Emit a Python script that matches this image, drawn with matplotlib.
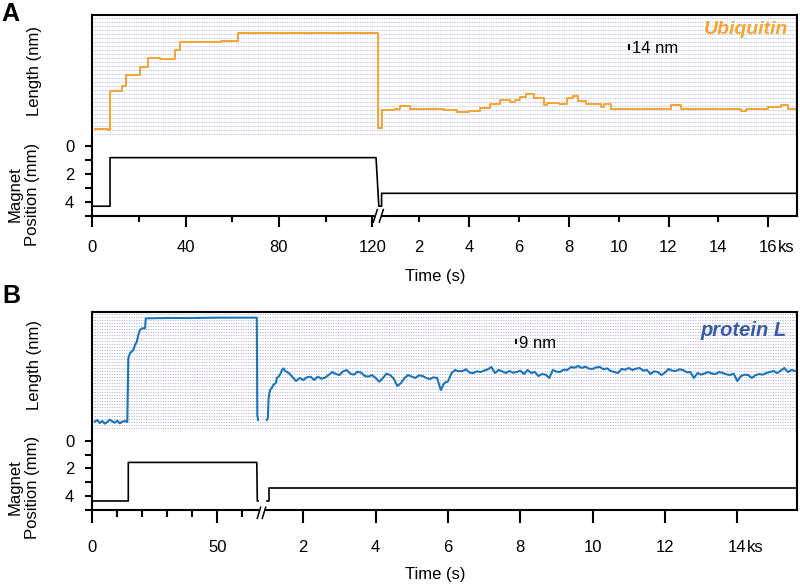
import numpy as np
import matplotlib
matplotlib.use("Agg")
import matplotlib.pyplot as plt
from matplotlib.ticker import FixedLocator, FixedFormatter

plt.rcParams["font.family"] = ["Liberation Sans", "DejaVu Sans"]

# =============================
# Data - panel A (ubiquitin)
# =============================
# first part of the trace in seconds, second part in ks
A_SEG1_T = [1.0, 3.5, 5.5, 6.8, 7.6, 10.0, 12.6, 14.4, 17.0, 20.4, 24.0, 29.0,
            33.0, 35.4, 37.6, 45.0, 55.0, 62.6, 75.0, 90.0, 105.0, 118.0, 122.3]
A_SEG1_L = [17.5, 19.0, 16.5, 14.0, 151.5, 150.0, 168.0, 206.5, 205.0, 235.5, 265.0, 263.0,
            261.0, 294.0, 323.0, 322.0, 324.0, 352.0, 353.0, 354.0, 353.0, 352.0, 20.0]
A_SEG2_KS = [0.50, 1.05, 1.24, 1.64, 2.30, 3.00, 3.53, 4.00, 4.46, 4.86,
             5.26, 5.66, 5.86, 6.06, 6.27, 6.59, 6.99, 7.15, 7.60, 7.95,
             8.19, 8.36, 8.68, 9.28, 9.40, 9.68, 10.8, 12.09, 12.50, 13.5,
             14.91, 15.10, 15.99, 16.51, 16.79, 17.15]
A_SEG2_L = [84, 86, 99, 86, 88, 84, 78, 80, 90, 104,
            119, 112, 119, 131, 140, 125, 101, 107, 104, 125,
            133, 116, 105, 94, 105, 86, 88, 101, 86, 88,
            80, 86, 94, 101, 88, 88]

A_MAG_T1 = [0, 7.6, 7.6, 121.6, 122.8]
A_MAG_V1 = [4.3, 4.3, 0.83, 0.83, 4.3]
A_MAG_KS2 = [0.50, 0.50, 17.15]
A_MAG_V2 = [4.3, 3.38, 3.38]

A_MAJOR_S = [0, 40, 80, 120, 4000, 8000, 12000, 16000]
A_MAJOR_LBL = ["0", "40", "80", "120", "4", "8", "12", "16"]
A_MINOR_S = [20, 60, 100, 2000, 6000, 10000, 14000]
A_MINOR_LBL = ["", "", "", "2", "6", "10", "14"]

# =============================
# Data - panel B (protein L)
# =============================
B_SEG1_T = [1, 2, 3, 4, 5, 6, 7, 8, 9, 10, 11, 12, 13,
            14.0, 14.4, 15.1, 16.4, 17.1, 17.8, 18.4, 19.1, 19.8, 21.1, 21.4,
            30, 40, 50, 60, 65.8, 66.0, 150]
B_SEG1_L = [19, 24, 15, 21, 13, 18, 25, 20, 16, 22, 14, 19, 21,
            18, 209, 225, 234, 249, 259, 279, 294, 299, 299, 329,
            330, 330, 331, 331, 331, 39, 24]
B_RISE_KS = [0.99, 1.02, 1.04, 1.08, 1.13, 1.17, 1.24, 1.27, 1.33, 1.38, 1.41, 1.45]
B_RISE_L = [24, 30, 90, 114, 120, 129, 135, 150, 156, 165, 174, 179]
# noisy plateau sampled every 0.1 ks from 1.5 ks
B_NOISE_START, B_NOISE_STEP = 1.5, 0.1
B_NOISE_L = [171, 165, 153, 141, 150, 144, 152, 154, 144, 154,
             148, 151, 159, 168, 162, 159, 170, 174, 163, 160,
             169, 166, 156, 154, 159, 150, 139, 150, 163, 159,
             148, 126, 135, 150, 159, 154, 150, 158, 156, 150,
             147, 152, 150, 114, 135, 140, 165, 174, 170, 171,
             176, 166, 165, 170, 168, 172, 176, 183, 165, 174,
             170, 165, 171, 166, 168, 172, 162, 174, 165, 168,
             156, 162, 160, 150, 174, 169, 168, 175, 174, 183,
             181, 186, 180, 184, 178, 177, 182, 183, 176, 179,
             171, 168, 165, 177, 175, 180, 174, 178, 180, 172,
             174, 162, 170, 168, 159, 166, 177, 172, 171, 176,
             174, 167, 168, 150, 165, 160, 164, 168, 163, 162,
             168, 165, 161, 159, 163, 141, 156, 160, 159, 150,
             158, 162, 160, 165, 168, 171, 165, 172, 180, 168,
             174, 171]

B_MAG_T1 = [0, 14.4, 14.4, 65.8, 66.0, 150]
B_MAG_V1 = [4.35, 4.35, 1.57, 1.57, 4.35, 4.35]
B_MAG_KS2 = [0.99, 1.06, 1.06, 15.65]
B_MAG_V2 = [4.35, 4.35, 3.38, 3.38]

B_MAJOR_S = [0, 50, 2000, 4000, 6000, 8000, 10000, 12000, 14000]
B_MAJOR_LBL = ["0", "50", "2", "4", "6", "8", "10", "12", "14"]
B_MINOR_S = [10, 20, 30, 40, 60]
B_MINOR_LBL = ["", "", "", "", ""]

# =============================
# Style
# =============================
ORANGE = "#F5A431"
BLUE = "#1C75BC"
BLUE_TXT = "#3B5BA8"
GRID = "#ababdb"
SPINE_W = 1.5
FS = 12

W_PX, H_PX = 800, 585
X0_PX, X1_PX = 92.3, 797.0


def rect(top, bottom):
    return [X0_PX / W_PX, 1 - bottom / H_PX, (X1_PX - X0_PX) / W_PX, (bottom - top) / H_PX]


def broken_scale(t_knots, p_knots):
    # piecewise linear time axis (seconds part + ks part)
    def forward(t):
        return np.interp(t, t_knots, p_knots)

    def inverse(p):
        return np.interp(p, p_knots, t_knots)
    return forward, inverse


def setup_panel(ax_len, ax_mag, knots, xmax, len_lim, grid_step, grid_top,
                majors, major_lbl, minors, minor_lbl, maj_len, min_len, pad,
                mag_top, ks_at, break_x):
    ax_mag.set_xscale("function", functions=broken_scale(*knots))
    ax_mag.set_xlim(0, xmax)

    # length axes: only dotted horizontal grid
    ax_len.set_ylim(*len_lim)
    ax_len.set_yticks(np.arange(0, grid_top + 1, grid_step))
    ax_len.tick_params(axis="y", length=0, labelleft=False)
    ax_len.tick_params(axis="x", which="both", bottom=False, labelbottom=False)
    ax_len.grid(axis="y", linestyle=(0, (1, 1.5)), color=GRID, linewidth=0.7)
    ax_len.spines["bottom"].set_visible(False)

    # magnet axes
    ax_mag.set_ylim(5, mag_top)
    ax_mag.yaxis.set_major_locator(FixedLocator([0, 2, 4]))
    ax_mag.yaxis.set_minor_locator(FixedLocator([1, 3, 5]))
    ax_mag.tick_params(axis="y", which="both", length=5, width=SPINE_W, pad=8, labelsize=FS)
    ax_mag.spines["top"].set_visible(False)

    ax_mag.xaxis.set_major_locator(FixedLocator(majors))
    ax_mag.xaxis.set_major_formatter(FixedFormatter(major_lbl))
    ax_mag.xaxis.set_minor_locator(FixedLocator(minors))
    ax_mag.xaxis.set_minor_formatter(FixedFormatter(minor_lbl))
    ax_mag.tick_params(axis="x", which="major", length=maj_len, width=SPINE_W, pad=pad, labelsize=FS)
    ax_mag.tick_params(axis="x", which="minor", length=min_len, width=SPINE_W,
                       pad=pad + maj_len - min_len, labelsize=FS)
    ax_mag.annotate("ks", xy=(ks_at, 0), xycoords=("data", "axes fraction"),
                    xytext=(6.6, -(maj_len + pad)), textcoords="offset points",
                    ha="left", va="top", fontsize=FS)

    for ax in (ax_len, ax_mag):
        for s in ax.spines.values():
            s.set_linewidth(SPINE_W)

    # axis break on the bottom spine
    b0, b1, b2, b3, ylo, yhi = break_x
    ax_mag.plot([b1, b2], [0, 0], transform=ax_mag.transAxes, color="white",
                lw=3, clip_on=False, zorder=5)
    for xa, xb in ((b0, b1), (b2, b3)):
        ax_mag.plot([xa, xb], [ylo, yhi], transform=ax_mag.transAxes, color="black",
                    lw=1.1, clip_on=False, zorder=6)


fig = plt.figure(figsize=(8, 5.85), dpi=100)

# =============================
# Panel A
# =============================
axA_len = fig.add_axes(rect(15, 140))
axA_mag = fig.add_axes(rect(140, 216), sharex=axA_len)

setup_panel(axA_len, axA_mag,
            knots=([0, 123, 449, 17150], [92.3, 379.3, 380.3, 797.0]), xmax=17150,
            len_lim=(-21, 416.5), grid_step=14, grid_top=406,
            majors=A_MAJOR_S, major_lbl=A_MAJOR_LBL, minors=A_MINOR_S, minor_lbl=A_MINOR_LBL,
            maj_len=8, min_len=4.3, pad=9.5, mag_top=-0.43, ks_at=16000,
            break_x=(0.3988, 0.4045, 0.4073, 0.4130, -0.08, 0.085))

tA = np.array(A_SEG1_T + [k * 1000 for k in A_SEG2_KS])
lA = np.array(A_SEG1_L + A_SEG2_L)
axA_len.plot(tA, lA, drawstyle="steps-post", color=ORANGE, lw=1.4)

tA_mag = np.array(A_MAG_T1 + [k * 1000 for k in A_MAG_KS2])
axA_mag.plot(tA_mag, A_MAG_V1 + A_MAG_V2, color="black", lw=1.2)

ytr = axA_len.get_yaxis_transform()
axA_len.plot([0.7616, 0.7616], [298, 312], transform=ytr, color="black", lw=1.5)
axA_len.text(0.766, 300, "14 nm", transform=ytr, ha="left", va="center", fontsize=FS)

# =============================
# Panel B
# =============================
axB_len = fig.add_axes(rect(312, 433))
axB_mag = fig.add_axes(rect(433, 510), sharex=axB_len)

setup_panel(axB_len, axB_mag,
            knots=([0, 66, 941, 15650], [92.3, 257.3, 265.0, 797.0]), xmax=15650,
            len_lim=(-15, 348), grid_step=9, grid_top=342,
            majors=B_MAJOR_S, major_lbl=B_MAJOR_LBL, minors=B_MINOR_S, minor_lbl=B_MINOR_LBL,
            maj_len=9, min_len=5, pad=12.5, mag_top=-0.55, ks_at=14000,
            break_x=(0.2341, 0.2389, 0.2412, 0.2461, -0.108, 0.036))

axB_len.plot(B_SEG1_T, B_SEG1_L, color=BLUE, lw=1.5)
noise_ks = B_NOISE_START + B_NOISE_STEP * np.arange(len(B_NOISE_L))
tB2 = np.concatenate([np.array(B_RISE_KS), noise_ks]) * 1000
lB2 = np.array(B_RISE_L + B_NOISE_L)
axB_len.plot(tB2, lB2, color=BLUE, lw=1.5)

axB_mag.plot(B_MAG_T1, B_MAG_V1, color="black", lw=1.2)
axB_mag.plot(np.array(B_MAG_KS2) * 1000, B_MAG_V2, color="black", lw=1.2)

ytr = axB_len.get_yaxis_transform()
axB_len.plot([0.6013, 0.6013], [254.5, 263.5], transform=ytr, color="black", lw=1.5)
axB_len.text(0.6055, 255, "9 nm", transform=ytr, ha="left", va="center", fontsize=FS)

# =============================
# Labels
# =============================
fig.text(1 / W_PX, 1 - 14 / H_PX, "A", fontsize=18, fontweight="bold", ha="left", va="center")
fig.text(2 / W_PX, 1 - 296 / H_PX, "B", fontsize=18, fontweight="bold", ha="left", va="center")

fig.text(788 / W_PX, 1 - 30 / H_PX, "Ubiquitin", color=ORANGE, fontsize=14,
         fontweight="bold", style="italic", ha="right", va="center")
fig.text(787 / W_PX, 1 - 330 / H_PX, "protein L", color=BLUE_TXT, fontsize=14.5,
         fontweight="bold", style="italic", ha="right", va="center")

for yc_len, yc_mag in ((71, 194), (365, 487)):
    fig.text(35 / W_PX, 1 - yc_len / H_PX, "Length (nm)", rotation=90,
             ha="center", va="center", fontsize=FS)
    fig.text(24 / W_PX, 1 - yc_mag / H_PX, "Magnet\nPosition (mm)", rotation=90,
             ha="center", va="center", fontsize=FS, multialignment="center", linespacing=1.25)

fig.text(435 / W_PX, 1 - 277 / H_PX, "Time (s)", ha="center", va="center", fontsize=FS)
fig.text(435 / W_PX, 1 - 575 / H_PX, "Time (s)", ha="center", va="center", fontsize=FS)

fig.savefig("out.png", dpi=100)
plt.close(fig)
